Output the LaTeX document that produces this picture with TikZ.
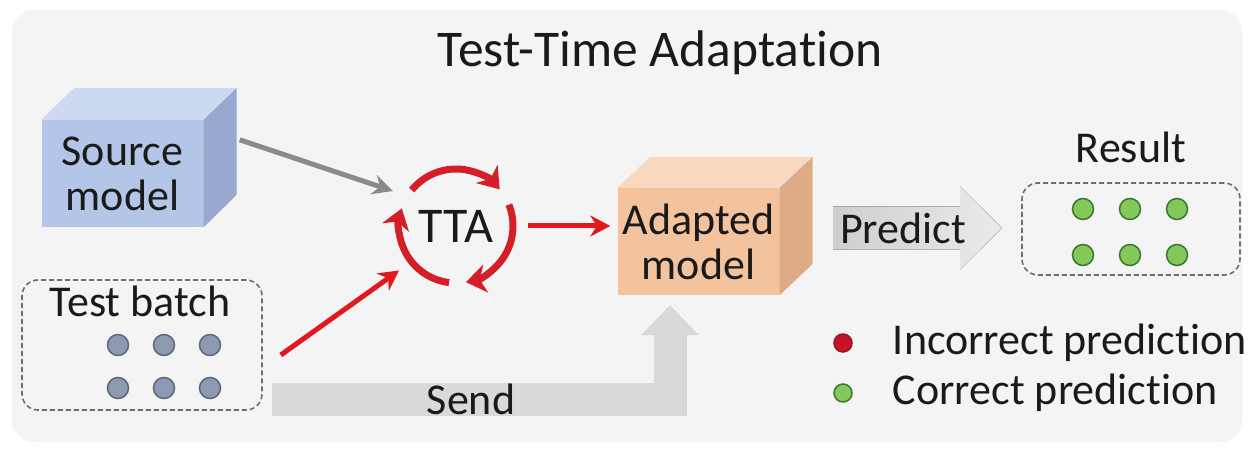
\documentclass[tikz,border=0pt]{standalone}
\usepackage{fontspec}
\setmainfont{Carlito}[Ligatures=NoCommon]
\usetikzlibrary{arrows.meta, positioning, calc}
\definecolor{ink}{RGB}{26,26,26}
\definecolor{panelbg}{RGB}{244,244,244}
\definecolor{srcfront}{RGB}{180,198,231}
\definecolor{srctop}{RGB}{204,217,241}
\definecolor{srcside}{RGB}{152,168,206}
\definecolor{adafront}{RGB}{243,195,158}
\definecolor{adatop}{RGB}{248,216,190}
\definecolor{adaside}{RGB}{222,171,134}
\definecolor{cycred}{RGB}{212,30,40}
\definecolor{ttared}{RGB}{225,25,30}
\definecolor{arrgray}{RGB}{138,138,138}
\definecolor{sendgray}{RGB}{217,217,217}
\definecolor{boxgray}{RGB}{110,110,110}
\definecolor{batchfill}{RGB}{142,154,178}
\definecolor{batchline}{RGB}{92,104,126}
\definecolor{okfill}{RGB}{132,200,92}
\definecolor{okline}{RGB}{58,120,46}
\definecolor{badfill}{RGB}{200,20,40}
\definecolor{badline}{RGB}{150,20,30}

\begin{document}
\begin{tikzpicture}[x=1pt, y=1pt,
  lbl/.style={font=\fontsize{44}{45}\selectfont, align=center, inner sep=0pt, text=ink},
  cubefront/.style={rectangle, minimum width=162pt, minimum height=107pt, inner sep=0pt, lbl},
  dashbox/.style={draw=boxgray, line width=1.6pt, dash pattern=on 5pt off 3pt, rounded corners=16pt},
  batchdot/.style={circle, fill=batchfill, draw=batchline, line width=1.5pt, minimum size=21pt, inner sep=0pt},
  okdot/.style={batchdot, fill=okfill, draw=okline},
  baddot/.style={batchdot, fill=badfill, draw=badline},
  grayarr/.style={-{Stealth[length=20pt, width=20pt]}, line width=5pt, draw=arrgray},
  redarr/.style={-{Stealth[length=20pt, width=21pt]}, line width=5pt, draw=ttared},
  cyc/.style={-{Stealth[length=20pt, width=28pt, inset=6pt]}, line width=7pt, draw=cycred},
  sendarr/.style={-{Triangle[length=30pt, width=58pt, line width=0pt 0]}, line width=33pt, draw=sendgray}
]
% background panel
\fill[white] (0,0) rectangle (1248,450);
\fill[panelbg, rounded corners=22pt] (12,8) rectangle (1242,440);
\useasboundingbox (0,0) rectangle (1248,450);

\node[lbl, font=\fontsize{51.5}{56}\selectfont, anchor=base] (title) at (660,383) {Test-Time Adaptation};

% source model
\node[cubefront, fill=srcfront] (src) at (122.5,276.5) {Source\\model};
\fill[srctop] (src.north west) -- ++(33,32) -- ++(162,0) -- (src.north east) -- cycle;
\fill[srcside] (src.north east) -- ++(33,32) -- ++(0,-107) -- (src.south east) -- cycle;

% adapted model
\node[cubefront, fill=adafront] (ada) at (698.5,208.5) {Adapted\\model};
\fill[adatop] (ada.north west) -- ++(33,31) -- ++(162,0) -- (ada.north east) -- cycle;
\fill[adaside] (ada.north east) -- ++(33,31) -- ++(0,-107) -- (ada.south east) -- cycle;

% test batch
\node[dashbox, minimum width=240pt, minimum height=130pt] (batch) at (142,105) {};
\node[lbl] (batchlbl) at (140,149) {Test batch};
\foreach \x in {118,164,210}
  \foreach \y in {62,105}
    \node[batchdot] (b\x\y) at (\x,\y) {};

% TTA loop
\node[circle, minimum size=144pt, inner sep=0pt, font=\fontsize{50}{56}\selectfont, text=ink] (tta) at (456,224) {TTA};
\draw[cyc] ([shift={(141:57)}]tta.center) arc[start angle=141, end angle=40, radius=57];
\draw[cyc] ([shift={(22:57)}]tta.center) arc[start angle=22, end angle=-80, radius=57];
\draw[cyc] ([shift={(-97:57)}]tta.center) arc[start angle=-97, end angle=-198, radius=57];

\coordinate (srcout) at ([shift={(36pt,-20pt)}]src.north east);
\coordinate (batchout) at ([shift={(18pt,-10pt)}]batch.east);
\draw[grayarr] (srcout) -- (tta.151);
\draw[redarr] (batchout) -- (tta.218);
\draw[redarr, shorten >=7pt] (tta.east) -- (tta.east -| ada.west);

% send
\coordinate (sendfrom) at (272,50.5);
\draw[sendarr] (sendfrom) -| node[pos=0.25, lbl]{Send} ([xshift=-28.5pt, yshift=-10pt]ada.south);

% predict
\coordinate (predc) at (903,222);
\fill[left color=gray!38, right color=gray!16] ([shift={(-70pt,-21.5pt)}]predc) -- ++(127,0) -- ++(0,-20)
  -- ([xshift=99pt]predc) -- ([shift={(57pt,41.5pt)}]predc) -- ++(0,-20) -- ([shift={(-70pt,21.5pt)}]predc) -- cycle;
\node[lbl] (pred) at (predc) {Predict};

% result
\node[dashbox, minimum width=218pt, minimum height=92pt] (res) at (1131,221) {};
\node[lbl, above=19pt of res] (reslbl) {Result};
\foreach \x in {1083,1130,1177}
  \foreach \y in {195,241}
    \node[okdot] (r\x\y) at (\x,\y) {};

% legend
\node[baddot, minimum size=18pt] (incdot) at (843,107) {};
\node[lbl, right=40pt of incdot] (inclbl) {Incorrect prediction};
\node[okdot, minimum size=18pt] (cordot) at (843,57) {};
\node[lbl, right=40pt of cordot] (corlbl) {Correct prediction};
\end{tikzpicture}
\end{document}
